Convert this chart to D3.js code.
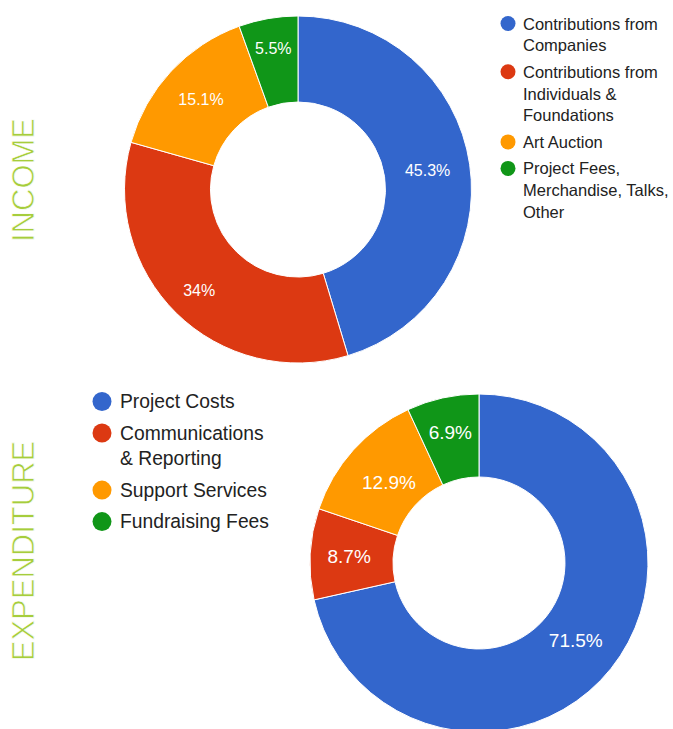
<!DOCTYPE html>
<html><head><meta charset="utf-8">
<script src="https://cdn.jsdelivr.net/npm/d3@7"></script>
<style>body{margin:0;background:#fff}</style>
</head><body>
<svg id="c" width="673" height="729"></svg>
<script>
const incomeCategories = ["Contributions from Companies", "Contributions from Individuals & Foundations", "Art Auction", "Project Fees, Merchandise, Talks, Other"];
const incomeValues = [45.3, 34, 15.1, 5.5];
const incomeLegendLines = [["Contributions from","Companies"],["Contributions from","Individuals &","Foundations"],["Art Auction"],["Project Fees,","Merchandise, Talks,","Other"]];
const expenditureCategories = ["Project Costs","Communications & Reporting","Support Services","Fundraising Fees"];
const expenditureValues = [71.5, 8.7, 12.9, 6.9];
const expenditureLegendLines = [["Project Costs"],["Communications","& Reporting"],["Support Services"],["Fundraising Fees"]];
const sliceColors = ["#3366cc","#dc3912","#ff9900","#109618"];
const titles = ["INCOME","EXPENDITURE"];

// layout: radial nudge of each slice label away from the ring's mid radius
const incomeLabelNudge = [0.5, 10.5, 2, 13];
const expenditureLabelNudge = [-3.5, 2.5, -6.5, 6];

const svg = d3.select("#c");
const font = "Arial, 'Liberation Sans', sans-serif";

function donut(cx, cy, rOuter, rInner, cats, values, fs, nudge) {
  const color = d3.scaleOrdinal().domain(cats).range(sliceColors);
  const pie = d3.pie().sort(null).value(d => d.v);
  const arc = d3.arc().innerRadius(rInner).outerRadius(rOuter);
  const data = pie(cats.map((c, i) => ({c, v: values[i]})));
  const g = svg.append("g").attr("transform", `translate(${cx},${cy})`);
  g.selectAll("path").data(data).join("path")
    .attr("d", arc).attr("fill", d => color(d.data.c))
    .attr("stroke", "#fff").attr("stroke-width", 1);
  g.selectAll("text").data(data).join("text")
    .attr("transform", (d, i) => {
      const rm = (rInner + rOuter) / 2 + nudge[i];
      const la = d3.arc().innerRadius(rm).outerRadius(rm);
      return `translate(${la.centroid(d)})`;
    })
    .attr("text-anchor", "middle").attr("dominant-baseline", "central")
    .attr("fill", "#fff").attr("font-family", font).attr("font-size", fs)
    .text(d => d.data.v + "%");
}

function legend(x, y, cats, lines, fs, lh, gap, r, dx) {
  const color = d3.scaleOrdinal().domain(cats).range(sliceColors);
  let cy = y;
  cats.forEach((c, i) => {
    svg.append("circle").attr("cx", x).attr("cy", cy).attr("r", r).attr("fill", color(c));
    const t = svg.append("text").attr("font-family", font).attr("font-size", fs).attr("fill", "#222");
    lines[i].forEach((ln, j) => {
      t.append("tspan").attr("x", x + dx).attr("y", cy + j * lh).attr("dominant-baseline", "central").text(ln);
    });
    cy += (lines[i].length - 1) * lh + gap;
  });
}

donut(298, 189.5, 173.5, 87.5, incomeCategories, incomeValues, 16, incomeLabelNudge);
legend(508, 23.5, incomeCategories, incomeLegendLines, 16.5, 21.8, 26.5, 7.5, 15);

donut(479, 563, 169, 86, expenditureCategories, expenditureValues, 19, expenditureLabelNudge);
legend(102, 401.5, expenditureCategories, expenditureLegendLines, 19.3, 25.6, 31.5, 9.5, 18);

[[23, 180, titles[0]], [23, 551, titles[1]]].forEach(([x, y, t]) => {
  svg.append("text").attr("transform", `translate(${x},${y}) rotate(-90)`)
    .attr("text-anchor", "middle").attr("dominant-baseline", "central")
    .attr("font-family", font).attr("font-size", 31).attr("fill", "#a6cd3c")
    .attr("stroke", "#fff").attr("stroke-width", 0.7).attr("paint-order", "normal")
    .text(t);
});
</script>
</body></html>
